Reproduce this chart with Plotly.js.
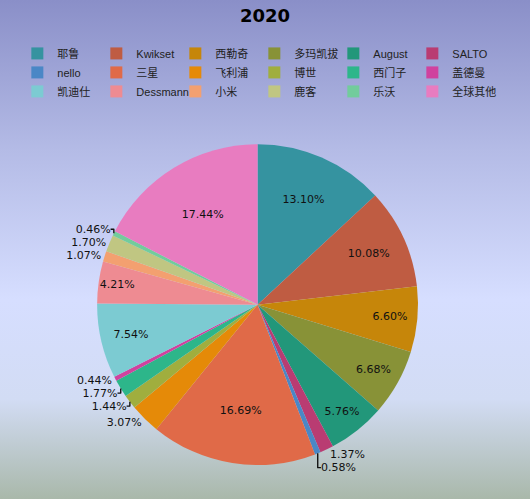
<!DOCTYPE html>
<html>
<head>
<meta charset="utf-8">
<script src="https://cdn.plot.ly/plotly-3.0.1.min.js"></script>
<style>
  html, body { margin: 0; padding: 0; }
  #chart {
    width: 530px; height: 499px;
    background: linear-gradient(to bottom, #8a8fc8 0%, #b4bbe6 30%, #d6deff 60%, #d2dcf4 80%, #a9b8aa 100%);
  }
  /* let the last legend column overflow instead of being cut */
  g.legend g.scrollbox { clip-path: none !important; }
</style>
</head>
<body>
<div id="chart"></div>
<script>
// 2020 share by brand (%), clockwise from 12 o'clock
var brands = ["耶鲁", "Kwikset", "西勒奇", "多玛凯拔", "August", "SALTO",
              "nello", "三星", "飞利浦", "博世", "西门子", "盖德曼",
              "凯迪仕", "Dessmann", "小米", "鹿客", "乐沃", "全球其他"];
var shares = [13.10, 10.08, 6.60, 6.68, 5.76, 1.37,
              0.58, 16.69, 3.07, 1.44, 1.77, 0.44,
              7.54, 4.21, 1.07, 1.70, 0.46, 17.44];
var colors = ["#3593a0", "#bf5c42", "#c6860a", "#889237", "#22977a", "#b93c72",
              "#4a87c6", "#e06a48", "#e58a08", "#a0ae3e", "#2db68a", "#d0429e",
              "#7ccbd2", "#ee8b92", "#f3a070", "#c0c682", "#72cc9c", "#e87cc0"];

var positions = shares.map(function (v) { return v < 4 ? "outside" : "inside"; });

var trace = {
  type: "pie",
  labels: brands,
  values: shares,
  sort: false,
  direction: "clockwise",
  rotation: 0,
  marker: { colors: colors, line: { width: 0 } },
  texttemplate: "%{value:.2f}%",
  textposition: positions,
  insidetextorientation: "horizontal",
  textfont: { family: "DejaVu Sans, sans-serif", size: 11, color: "#111" },
  hoverinfo: "label+percent",
  domain: { x: [0.190, 0.820], y: [0.068, 0.711] }
};

var layout = {
  width: 530,
  height: 499,
  margin: { l: 0, r: 20, t: 0, b: 0 },
  paper_bgcolor: "rgba(0,0,0,0)",
  plot_bgcolor: "rgba(0,0,0,0)",
  title: {
    text: "<b>2020</b>",
    font: { family: "DejaVu Sans, sans-serif", size: 18, color: "#000" },
    x: 0.5, xanchor: "center", y: 0.968, yanchor: "middle"
  },
  showlegend: true,
  legend: {
    orientation: "h",
    x: 0.034, xanchor: "left",
    y: 0.922, yanchor: "top",
    entrywidth: 34,
    entrywidthmode: "pixels",
    traceorder: "normal",
    itemwidth: 30,
    tracegroupgap: 0,
    font: { family: "Liberation Sans, Noto Sans CJK SC, sans-serif", size: 11, color: "#222" },
    bgcolor: "rgba(0,0,0,0)"
  }
};

Plotly.newPlot("chart", [trace], layout, { displayModeBar: false });
</script>
</body>
</html>
